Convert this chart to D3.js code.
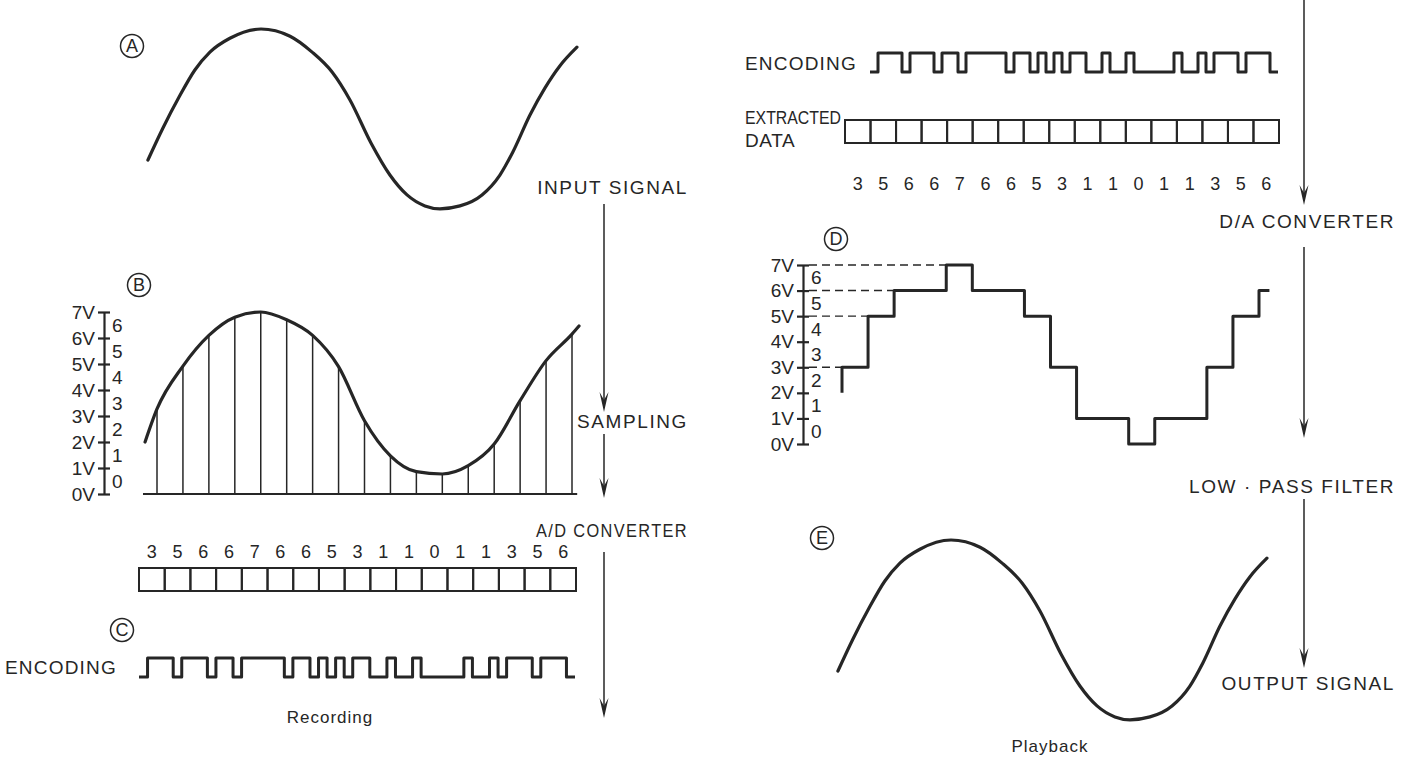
<!DOCTYPE html>
<html><head><meta charset="utf-8">
<script src="https://cdn.jsdelivr.net/npm/d3@7"></script>
<style>
html,body{margin:0;padding:0;background:#fff;}
svg{display:block;}
</style></head>
<body><svg id="c" width="1414" height="758"></svg>
<script>
// ---------------- data ----------------
const codes = [3,5,6,6,7,6,6,5,3,1,1,0,1,1,3,5,6];           // quantised sample codes
const sampleVolts = [3.27,4.92,6.1,6.8,7.0,6.7,6.1,4.9,2.82,1.47,0.86,0.77,1.09,1.92,3.59,5.13,6.15];
const sampledCurveT = [-0.46,0,1,2,3,4,5,6,7,8,9,10,11,12,13,14,15,16,16.27];
const sampledCurveV = [2.0,3.27,4.92,6.1,6.8,7.0,6.7,6.1,4.9,2.82,1.47,0.86,0.77,1.09,1.92,3.59,5.13,6.15,6.46];
const signalT = [-0.35,0.23,0.85,1.46,2.04,2.81,4.01,5.13,5.98,6.75,7.44,8.25,8.98,9.64,10.33,10.91,11.68,12.53,13.22,13.72,14.38,14.96,15.53,16.19];
const signalV = [2.46,3.57,4.64,5.58,6.20,6.68,7.00,6.75,6.20,5.51,4.54,3.05,1.94,1.25,0.87,0.77,0.87,1.25,1.94,2.74,4.02,4.96,5.72,6.37];
const voltTicks = [0,1,2,3,4,5,6,7];
const levelTicks = [0,1,2,3,4,5,6];
const dacStartV = 2;
const dacEndT = 16.4;
const dashLevels = [3,5,6,7];
const bitWeights = [4,2,1];

// ---------------- setup ----------------
const FONT = '"Liberation Sans", Arial, Helvetica, sans-serif';
const ink = "#262626";
const svg = d3.select("#c");
const sampleIndex = d3.range(codes.length);
const bits = codes.flatMap(c => bitWeights.map(w => (c & w) ? 1 : 0));

const tDomain = [0,16];
const xA = d3.scaleLinear().domain(tDomain).range([157,572]);
const yA = d3.scaleLinear().domain([0,7]).range([231,29]);
const xB = d3.scaleLinear().domain(tDomain).range([157,572]);
const yB = d3.scaleLinear().domain([0,7]).range([494,312]);
const xE = d3.scaleLinear().domain(tDomain).range([157+690,572+690]);
const yE = d3.scaleLinear().domain([0,7]).range([231+511,29+511]);
const xD = d3.scaleLinear().domain(tDomain).range([842,1259]);
const yD = d3.scaleLinear().domain([0,7]).range([444,265]);
const cellL = d3.scaleBand().domain(sampleIndex).range([139,576]);
const cellR = d3.scaleBand().domain(sampleIndex).range([845,1279]);
const bitL = d3.scaleLinear().domain([0,bits.length]).range([139,575]);
const levL = d3.scaleLinear().domain([0,1]).range([677,658]);
const bitR = d3.scaleLinear().domain([0,bits.length]).range([870,1278]);
const levR = d3.scaleLinear().domain([0,1]).range([72,53]);

function text(x,y,s,opt={}){
  const t = svg.append("text").attr("x",x).attr("y",y).text(s)
    .attr("font-family",FONT).attr("font-size",opt.size||19)
    .attr("letter-spacing",opt.ls==null?1.6:opt.ls)
    .attr("text-anchor",opt.anchor||"start").attr("fill",ink);
  if(opt.len) t.attr("textLength",opt.len).attr("lengthAdjust","spacingAndGlyphs");
  return t;
}
function circled(cx,cy,ch){
  svg.append("circle").attr("cx",cx).attr("cy",cy).attr("r",11.5)
    .attr("fill","none").attr("stroke",ink).attr("stroke-width",1.5);
  svg.append("text").attr("x",cx).attr("y",cy+6.3).text(ch)
    .attr("font-family",FONT).attr("font-size",18).attr("text-anchor","middle").attr("fill",ink);
}
function arrow(x,y1,y2){
  svg.append("line").attr("x1",x).attr("x2",x).attr("y1",y1).attr("y2",y2-4)
    .attr("stroke",ink).attr("stroke-width",1.5);
  svg.append("path").attr("d",`M${x-4.5},${y2-20}L${x},${y2-12}L${x+4.5},${y2-20}L${x},${y2}Z`)
    .attr("fill",ink);
}
function smooth(x,y){
  return d3.line().x(d=>x(d[0])).y(d=>y(d[1])).curve(d3.curveMonotoneX);
}
function voltAxis(x0,y){
  const g1 = svg.append("g").attr("transform",`translate(${x0},0)`)
    .call(d3.axisLeft(y).tickValues(voltTicks).tickFormat(d=>d+"V").tickSize(6).tickSizeOuter(0).tickPadding(3));
  const g2 = svg.append("g").attr("transform",`translate(${x0},0)`)
    .call(d3.axisRight(y).tickValues(voltTicks).tickFormat("").tickSize(6).tickSizeOuter(0));
  g2.select(".domain").remove();
  const g3 = svg.append("g").attr("transform",`translate(${x0},0)`)
    .call(d3.axisRight(y).tickValues(levelTicks.map(d=>d+0.5)).tickFormat(d=>String(d-0.5)).tickSize(0).tickPadding(8));
  g3.select(".domain").remove();
  [g1,g2,g3].forEach(g=>{
    g.selectAll("line,path").attr("stroke",ink).attr("stroke-width",2.2);
    g.selectAll("text").attr("font-family",FONT).attr("font-size",19).attr("fill",ink);
  });
}
function cells(band,yTop,h){
  band.domain().forEach(i=>{
    svg.append("rect").attr("x",band(i)).attr("y",yTop).attr("width",band.bandwidth()).attr("height",h)
      .attr("fill","none").attr("stroke",ink).attr("stroke-width",2);
  });
}
function digits(band,yText){
  codes.forEach((v,i)=>text(band(i)+band.bandwidth()/2,yText,v,{anchor:"middle",ls:0,size:18}));
}
function encoding(xs,ys){
  const pts = bits.map((b,i)=>[i,b]).concat([[bits.length,bits[bits.length-1]]]);
  svg.append("path").attr("d",d3.line().x(d=>xs(d[0])).y(d=>ys(d[1])).curve(d3.curveStepAfter)(pts))
    .attr("fill","none").attr("stroke",ink).attr("stroke-width",3).attr("stroke-linejoin","round");
}

// ---------------- A : input signal ----------------
const sig = d3.zip(signalT,signalV);
circled(132,46,"A");
svg.append("path").attr("d",smooth(xA,yA)(sig)).attr("fill","none").attr("stroke",ink).attr("stroke-width",3.2).attr("stroke-linecap","round");
text(688,194,"INPUT SIGNAL",{anchor:"end"});
arrow(604,204,412);

// ---------------- B : sampling ----------------
circled(139,285,"B");
voltAxis(104,yB);
svg.append("line").attr("x1",xB(-0.54)).attr("x2",xB(16.2)).attr("y1",yB(0)).attr("y2",yB(0))
  .attr("stroke",ink).attr("stroke-width",2);
sampleIndex.forEach(i=>{
  svg.append("line").attr("x1",xB(i)).attr("x2",xB(i)).attr("y1",yB(0)).attr("y2",yB(sampleVolts[i]))
    .attr("stroke",ink).attr("stroke-width",1.5);
});
svg.append("path").attr("d",smooth(xB,yB)(d3.zip(sampledCurveT,sampledCurveV)))
  .attr("fill","none").attr("stroke",ink).attr("stroke-width",3.2).attr("stroke-linecap","round");
text(688,428,"SAMPLING",{anchor:"end"});
arrow(604,434,498);

// ---------------- C : A/D + encoding ----------------
text(688,537,"A/D CONVERTER",{anchor:"end",len:152});
digits(cellL,558);
cells(cellL,568,23);
circled(122,630,"C");
text(5,674,"ENCODING",{ls:1.2});
encoding(bitL,levL);
arrow(604,552,718);
text(330,723,"Recording",{anchor:"middle",size:17,ls:1});

// ---------------- playback: encoding + extracted data ----------------
arrow(1304,0,205);
text(745,70,"ENCODING",{ls:1.2});
encoding(bitR,levR);
text(745,124,"EXTRACTED",{ls:0,len:96});
text(745,147,"DATA",{ls:0.6});
cells(cellR,120,23);
digits(cellR,190);
text(1395,228,"D/A CONVERTER",{anchor:"end"});
arrow(1304,247,438);

// ---------------- D : D/A staircase ----------------
circled(836,239,"D");
voltAxis(803,yD);
dashLevels.forEach(l=>{
  svg.append("line").attr("x1",803+6).attr("x2",xD(codes.indexOf(l))).attr("y1",yD(l)).attr("y2",yD(l))
    .attr("stroke",ink).attr("stroke-width",1.4).attr("stroke-dasharray","8,5");
});
const dacPts = [[0,dacStartV]].concat(codes.map((c,i)=>[i,c]),[[dacEndT,codes[codes.length-1]]]);
svg.append("path").attr("d",d3.line().x(d=>xD(d[0])).y(d=>yD(d[1])).curve(d3.curveStepAfter)(dacPts))
  .attr("fill","none").attr("stroke",ink).attr("stroke-width",3).attr("stroke-linejoin","round");

// ---------------- E : output signal ----------------
text(1395,493,"LOW \u00B7 PASS FILTER",{anchor:"end"});
arrow(1304,499,668);
circled(822,538,"E");
svg.append("path").attr("d",smooth(xE,yE)(sig)).attr("fill","none").attr("stroke",ink).attr("stroke-width",3.2).attr("stroke-linecap","round");
text(1395,690,"OUTPUT SIGNAL",{anchor:"end"});
text(1050,752,"Playback",{anchor:"middle",size:17,ls:1});
</script>
</body></html>
